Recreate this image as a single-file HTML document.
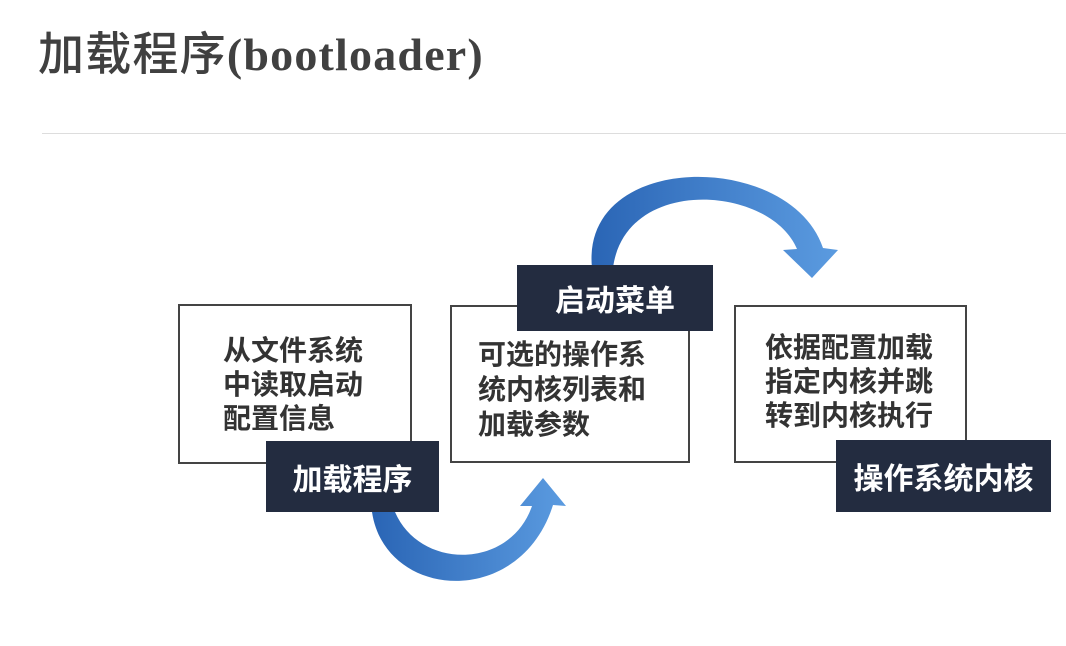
<!DOCTYPE html>
<html><head><meta charset="utf-8"><style>
body{margin:0;width:1066px;height:646px;background:#fff;position:relative;overflow:hidden;font-family:"Liberation Sans","Noto Sans CJK SC",sans-serif}
.t{position:absolute;left:38px;top:18px;font-size:46px;letter-spacing:1.2px;color:#404040;font-weight:bold;font-family:"Liberation Serif","Noto Sans CJK SC",serif;white-space:nowrap}
.t span{font-family:"Noto Sans CJK SC",sans-serif;font-weight:500}
.hr{position:absolute;left:42px;top:133px;width:1024px;height:1px;background:#ddd}
.box{position:absolute;border:2px solid #444;background:#fff;box-sizing:border-box}
.txt{position:absolute;font-size:28px;line-height:34px;color:#333;font-weight:bold;white-space:nowrap;font-family:"Noto Sans CJK SC",sans-serif}
.lab{position:absolute;background:#232c40;color:#fff;font-size:30px;font-weight:bold;display:flex;align-items:center;justify-content:center;font-family:"Noto Sans CJK SC",sans-serif;white-space:nowrap}
svg{position:absolute;left:0;top:0}
</style></head><body>
<div class="t"><span>加载程序</span>(bootloader)</div>
<div class="hr"></div>
<svg width="1066" height="646">
<defs><linearGradient id="g" x1="0" y1="0" x2="1" y2="0"><stop offset="0" stop-color="#2a65b5"/><stop offset="1" stop-color="#5b9be0"/></linearGradient></defs>
<path d="M592,268 C580,150 790,150 823,248 L838,250 L812,278 L783,250 L797,249 C770,185 625,175 613,268 Z" fill="url(#g)"/>
<path d="M372,512 C385,600 520,610 553,505 L566,506 L543,478 L520,506 L532,506 C510,570 420,570 395,512 Z" fill="url(#g)"/>
</svg>
<div class="box" style="left:178px;top:304px;width:234px;height:160px"></div>
<div class="box" style="left:450px;top:305px;width:240px;height:158px"></div>
<div class="box" style="left:734px;top:305px;width:233px;height:158px"></div>
<div class="txt" style="left:223px;top:332px">从文件系统<br>中读取启动<br>配置信息</div>
<div class="txt" style="left:478px;top:336px;line-height:35px">可选的操作系<br>统内核列表和<br>加载参数</div>
<div class="txt" style="left:765px;top:329px">依据配置加载<br>指定内核并跳<br>转到内核执行</div>
<div class="lab" style="left:266px;top:441px;width:173px;height:71px">加载程序</div>
<div class="lab" style="left:517px;top:265px;width:196px;height:66px">启动菜单</div>
<div class="lab" style="left:836px;top:440px;width:215px;height:72px">操作系统内核</div>
</body></html>
